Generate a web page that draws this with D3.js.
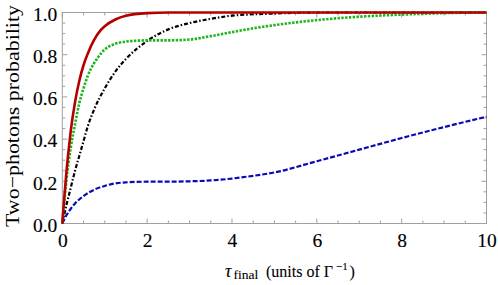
<!DOCTYPE html>
<html lang="en">
<head>
<meta charset="UTF-8">
<title>Two-photons probability</title>
<script src="https://d3js.org/d3.v7.min.js"></script>
<style>
  body { margin: 0; background: #fff; }
  svg text { font-family: 'Liberation Serif', 'DejaVu Serif', serif; }
</style>
</head>
<body>
<div id="chart"></div>
<script>
// values
const tauRed   = [0, 0.05, 0.1, 0.15, 0.2, 0.3, 0.4, 0.5, 0.6, 0.75, 0.9, 1.0, 1.25, 1.5, 2, 2.5, 10];
const probRed  = [0, 0.13, 0.25, 0.35, 0.44, 0.575, 0.675, 0.75, 0.805, 0.87, 0.915, 0.935, 0.967, 0.985, 0.997, 1.0, 1.0];

const tauGreen  = [0, 0.05, 0.1, 0.2, 0.3, 0.4, 0.5, 0.6, 0.75, 0.85, 1.0, 1.2, 1.5, 2, 2.5, 3, 3.5, 4, 4.5, 5, 6, 7, 8, 9, 10];
const probGreen = [0, 0.11, 0.21, 0.36, 0.47, 0.57, 0.64, 0.70, 0.76, 0.79, 0.825, 0.848, 0.862, 0.868, 0.868, 0.872, 0.888, 0.907, 0.925, 0.94, 0.964, 0.98, 0.99, 0.997, 1.0];

const tauBlack  = [0, 0.1, 0.2, 0.3, 0.4, 0.5, 0.6, 0.75, 1.0, 1.25, 1.5, 2, 2.5, 3, 3.5, 4, 5, 6, 10];
const probBlack = [0, 0.09, 0.17, 0.25, 0.32, 0.39, 0.46, 0.54, 0.64, 0.72, 0.78, 0.865, 0.92, 0.95, 0.97, 0.985, 0.995, 1.0, 1.0];

const tauBlue  = [0, 0.1, 0.2, 0.3, 0.5, 0.75, 1.0, 1.25, 1.5, 2, 2.5, 3, 3.5, 4, 4.5, 5, 6, 7, 8, 9, 10];
const probBlue = [0, 0.04, 0.07, 0.095, 0.13, 0.16, 0.178, 0.19, 0.195, 0.198, 0.198, 0.2, 0.204, 0.213, 0.226, 0.242, 0.295, 0.35, 0.405, 0.457, 0.506];

const xTicks = [0, 2, 4, 6, 8, 10];
const yTicks = [0, 0.2, 0.4, 0.6, 0.8, 1.0];

const margin = {top: 12.5, right: 11.5, bottom: 61.5, left: 62.3},
    W = 498, H = 285,
    width = W - margin.left - margin.right,
    height = H - margin.top - margin.bottom;

const svg = d3.select("#chart").append("svg")
    .attr("width", W).attr("height", H);
const g = svg.append("g")
    .attr("transform", `translate(${margin.left},${margin.top})`);

const x = d3.scaleLinear().domain([0, 10]).range([0, width]);
const y = d3.scaleLinear().domain([0, 1]).range([height, 0]);

const frameColor = "#a0a0a0";

// minor ticks every 0.5 on x, 0.05 on y
const xMinor = d3.range(0, 10.001, 0.5);
const yMinor = d3.range(0, 1.0001, 0.05);

// frame
g.append("rect")
  .attr("x", 0).attr("y", 0)
  .attr("width", width).attr("height", height)
  .attr("fill", "none").attr("stroke", frameColor).attr("stroke-width", 1);

const ticks = g.append("g").attr("stroke", frameColor).attr("stroke-width", 1);
xMinor.forEach(v => {
  const major = xTicks.includes(Math.round(v * 10) / 10);
  const len = major ? 5 : 3;
  ticks.append("line").attr("x1", x(v)).attr("x2", x(v)).attr("y1", height).attr("y2", height - len);
  ticks.append("line").attr("x1", x(v)).attr("x2", x(v)).attr("y1", 0).attr("y2", len);
});
yMinor.forEach(v => {
  const r = Math.round(v * 100) / 100;
  const major = yTicks.some(t => Math.abs(t - r) < 1e-6);
  const len = major ? 5 : 3;
  ticks.append("line").attr("y1", y(v)).attr("y2", y(v)).attr("x1", 0).attr("x2", len);
  ticks.append("line").attr("y1", y(v)).attr("y2", y(v)).attr("x1", width).attr("x2", width - len);
});

// tick labels via axes (no lines)
const xAxis = g.append("g")
  .attr("transform", `translate(0,${height})`)
  .call(d3.axisBottom(x).tickValues(xTicks).tickSize(0).tickPadding(0).tickFormat(d3.format("d")));
const yAxis = g.append("g")
  .call(d3.axisLeft(y).tickValues(yTicks).tickSize(0).tickPadding(5).tickFormat(d3.format(".1f")));
[xAxis, yAxis].forEach(a => {
  a.attr("font-family", null).attr("font-size", null);
  a.select(".domain").remove();
  a.selectAll("text")
    .style("font-size", "19.5px").attr("fill", "#000")
    .attr("stroke", "#000").attr("stroke-width", 0.15);
});
xAxis.selectAll("text").attr("dy", null).attr("y", 23.5);
yAxis.selectAll("text").attr("dy", "0.4em");

// curves
const line = d3.line().curve(d3.curveMonotoneX);
function draw(taus, probs, color, dash, w) {
  const pts = taus.map((t, i) => [x(t), y(probs[i])]);
  g.append("path")
    .attr("d", line(pts))
    .attr("fill", "none")
    .attr("stroke", color)
    .attr("stroke-width", w)
    .attr("stroke-dasharray", dash);
}
draw(tauBlue, probBlue, "#0a0ab4", "5,2", 2.2);
draw(tauBlack, probBlack, "#000000", "4,2,1.5,2", 2.2);
draw(tauGreen, probGreen, "#1cb41c", "2.4,1.4", 2.6);
draw(tauRed, probRed, "#b40000", null, 2.6);

// x axis label: τ_final (units of Γ^−1)
const xl = svg.append("text")
  .attr("y", 276.5)
  .style("font-size", "16px").attr("fill", "#000")
  .attr("stroke", "#000").attr("stroke-width", 0.1);
xl.append("tspan").attr("x", 225).attr("font-style", "italic").style("font-size", "18px").text("τ");
xl.append("tspan").attr("x", 233.5).style("font-size", "13.5px").attr("dy", 2).text("final");
xl.append("tspan").attr("x", 266).attr("dy", -2).text("(units of Γ");
xl.append("tspan").attr("x", 336).style("font-size", "11px").attr("dy", -7).text("−1");
xl.append("tspan").attr("x", 349.5).attr("dy", 7).text(")");

svg.append("text")
  .attr("transform", "translate(19,116) rotate(-90)")
  .attr("text-anchor", "middle")
  .attr("textLength", 222).attr("lengthAdjust", "spacingAndGlyphs")
  .style("font-size", "19.5px").attr("fill", "#000")
  .text("Two−photons probability");
</script>
</body>
</html>
